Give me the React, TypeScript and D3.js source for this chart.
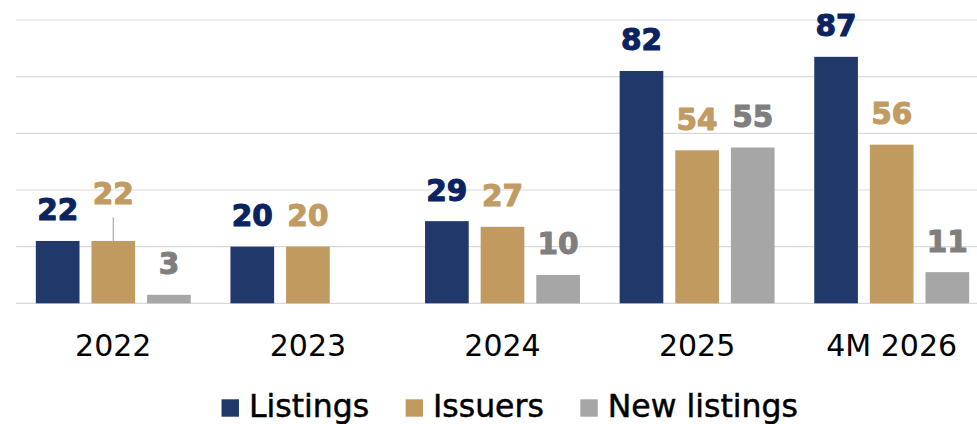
import React, { useEffect, useRef } from "react";
import * as d3 from "d3";

const categories = ["2022", "2023", "2024", "2025", "4M 2026"];
const seriesNames = ["Listings", "Issuers", "New listings"];
const listings = [22, 20, 29, 82, 87];
const issuers = [22, 20, 27, 54, 56];
const newListings: (number | null)[] = [3, null, 10, 55, 11];
const yTicks = [0, 20, 40, 60, 80, 100];

const barColors = ["#21386a", "#c09a5e", "#a6a6a6"];
const labelColors = ["#0b2360", "#c19b62", "#7f7f7f"];

const W = 977;
const H = 424;

export default function App() {
  const ref = useRef<SVGSVGElement | null>(null);

  useEffect(() => {
    const svg = d3.select(ref.current);
    svg.selectAll("*").remove();

    const baseline = 303.3;
    const top = 20;
    const y = d3.scaleLinear().domain([0, 100]).range([baseline, top]);
    const x0 = d3
      .scaleBand<string>()
      .domain(categories)
      .range([16, 989])
      .paddingInner(0.204)
      .paddingOuter(0.102);
    const x1 = d3
      .scaleBand<string>()
      .domain(seriesNames)
      .range([0, x0.bandwidth()])
      .paddingInner(0.215)
      .paddingOuter(0);

    // gridlines
    svg
      .append("g")
      .selectAll("line")
      .data(yTicks)
      .join("line")
      .attr("x1", 16)
      .attr("x2", W)
      .attr("y1", (d) => y(d))
      .attr("y2", (d) => y(d))
      .attr("stroke", "#d9d9d9")
      .attr("stroke-width", 1.2);

    const series = [listings, issuers, newListings];
    const fontBold = "'DejaVu Sans', sans-serif";

    series.forEach((vals, si) => {
      const g = svg.append("g");
      const data = categories
        .map((c, i) => ({ c, v: vals[i] }))
        .filter((d) => d.v !== null && d.v !== undefined) as { c: string; v: number }[];
      g.selectAll("rect")
        .data(data)
        .join("rect")
        .attr("x", (d) => (x0(d.c) as number) + (x1(seriesNames[si]) as number))
        .attr("width", x1.bandwidth())
        .attr("y", (d) => y(d.v))
        .attr("height", (d) => baseline - y(d.v))
        .attr("fill", barColors[si]);

      g.selectAll("text")
        .data(data)
        .join("text")
        .attr("x", (d) => (x0(d.c) as number) + (x1(seriesNames[si]) as number) + x1.bandwidth() / 2)
        .attr("y", (d) => {
          const lifted = si === 1 && d.c === "2022";
          return y(d.v) - 20.5 - (lifted ? 16.5 : 0);
        })
        .attr("text-anchor", "middle")
        .attr("font-family", fontBold)
        .attr("font-weight", "bold")
        .attr("font-size", 29.5)
        .attr("fill", labelColors[si])
        .attr("stroke", labelColors[si])
        .attr("stroke-width", 1.1)
        .attr("stroke-linejoin", "round")
        .text((d) => String(d.v));

      // leader line for the lifted label
      if (si === 1) {
        const d = data.find((e) => e.c === "2022");
        if (d) {
          const cx = (x0(d.c) as number) + (x1(seriesNames[si]) as number) + x1.bandwidth() / 2;
          svg
            .append("line")
            .attr("x1", cx)
            .attr("x2", cx)
            .attr("y1", y(d.v) - 23.5)
            .attr("y2", y(d.v))
            .attr("stroke", "#a6a6a6")
            .attr("stroke-width", 1.2);
        }
      }
    });

    // x labels
    svg
      .append("g")
      .selectAll("text")
      .data(categories)
      .join("text")
      .attr("x", (d) => (x0(d) as number) + x0.bandwidth() / 2)
      .attr("y", 356)
      .attr("text-anchor", "middle")
      .attr("font-family", "'DejaVu Sans', sans-serif")
      .attr("font-size", 30)
      .attr("fill", "#000")
      .text((d) => d);

    // legend
    const lg = svg.append("g");
    const sq = 17.4;
    const gapSqText = 10;
    const gapItems = 36.5;
    let cursor = 0;
    seriesNames.forEach((name, i) => {
      const ig = lg.append("g");
      ig.append("rect")
        .attr("x", 0)
        .attr("y", 399.3)
        .attr("width", sq)
        .attr("height", sq)
        .attr("fill", barColors[i]);
      const t = ig
        .append("text")
        .attr("x", sq + gapSqText)
        .attr("y", 416.7)
        .attr("font-family", "'DejaVu Sans', sans-serif")
        .attr("font-size", 31.5)
        .attr("fill", "#000")
        .attr("stroke", "#000")
        .attr("stroke-width", 0.5)
        .text(name);
      const tw = (t.node() as SVGTextElement).getComputedTextLength();
      const w = sq + gapSqText + tw;
      ig.attr("transform", `translate(${cursor},0)`);
      cursor += w + gapItems;
    });
    const total = cursor - gapItems;
    lg.attr("transform", `translate(${509.7 - total / 2},0)`);
  }, []);

  return (
    <svg
      ref={ref}
      width={W}
      height={H}
      style={{ position: "absolute", left: 0, top: 0, background: "#fff" }}
    />
  );
}
